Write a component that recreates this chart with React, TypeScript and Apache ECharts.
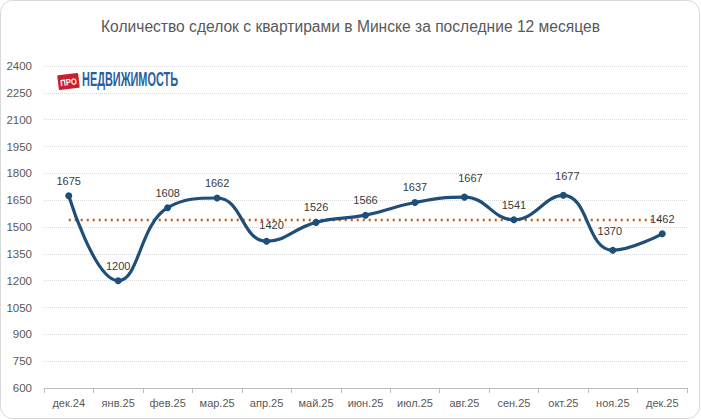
import React, { useEffect, useRef } from "react";
import * as echarts from "echarts";

const TITLE = "Количество сделок с квартирами в Минске за последние 12 месяцев";
const categories = ["дек.24", "янв.25", "фев.25", "мар.25", "апр.25", "май.25", "июн.25", "июл.25", "авг.25", "сен.25", "окт.25", "ноя.25", "дек.25"];
const deals = [1675, 1200, 1608, 1662, 1420, 1526, 1566, 1637, 1667, 1541, 1677, 1370, 1462];
const average = [1539, 1539, 1539, 1539, 1539, 1539, 1539, 1539, 1539, 1539, 1539, 1539, 1539];
const labelOffsets: [number, number][] = [
  [0, 0], [0, 0], [0, 0], [0, 0], [5, -1], [0, 0], [0, 0], [0, 0], [6, -4], [0, 0], [4, -4], [-3, -4], [0, 0],
];

export default function App() {
  const ref = useRef<HTMLDivElement>(null);
  useEffect(() => {
    document.body.style.margin = "0";
    const chart = echarts.init(ref.current!, null, { renderer: "svg" });
    const font = "'Liberation Sans', Arial, sans-serif";
    const labelColor = "#3a3a3a";
    chart.setOption({
      animation: false,
      backgroundColor: "#ffffff",
      title: {
        text: TITLE,
        left: "center",
        top: 13,
        textStyle: { fontFamily: font, fontSize: 15.6, fontWeight: "normal", color: "#595959" },
      },
      grid: { left: 44, right: 14, top: 66, bottom: 32 },
      xAxis: {
        type: "category",
        data: categories,
        axisLine: { lineStyle: { color: "#bfbfbf" } },
        axisTick: { show: true, length: 5, lineStyle: { color: "#bfbfbf" } },
        axisLabel: { fontFamily: font, fontSize: 11, color: "#595959", margin: 9 },
      },
      yAxis: {
        type: "value",
        min: 600,
        max: 2400,
        interval: 150,
        axisLine: { show: false },
        axisTick: { show: false },
        axisLabel: {
          fontFamily: font,
          fontSize: 11.5,
          color: "#595959",
          margin: 12,
          formatter: (v: number) => String(v),
        },
        splitLine: { lineStyle: { color: "#d9d9d9", type: "dotted" } },
      },
      series: [
        {
          type: "line",
          data: average,
          symbol: "none",
          lineStyle: { color: "#c55a11", width: 2.5, type: [2, 4] as any },
          z: 2,
          silent: true,
          label: { show: false },
        },
        {
          type: "line",
          data: deals.map((v, i) => ({
            value: v,
            label: { offset: labelOffsets[i] },
          })),
          smooth: 0.45,
          symbol: "circle",
          symbolSize: 7,
          itemStyle: { color: "#1f4e79" },
          lineStyle: { color: "#1f4e79", width: 3.2 },
          label: {
            show: true,
            position: "top",
            distance: 6,
            fontFamily: font,
            fontSize: 11,
            color: labelColor,
          },
          z: 3,
        },
      ],
      graphic: [
        {
          type: "rect",
          shape: { x: 0.5, y: 0.5, width: 699, height: 418, r: 12 },
          style: { fill: "none", stroke: "#d9d9d9", lineWidth: 1 },
          silent: true,
        },
        {
          type: "group",
          x: 68.5,
          y: 81.5,
          rotation: 0.12,
          children: [
            {
              type: "rect",
              shape: { x: -10.5, y: -7.5, width: 21, height: 15, r: 1 },
              style: { fill: "#c8202f" },
            },
            {
              type: "text",
              x: 0,
              y: 0.5,
              scaleX: 0.85,
              style: {
                text: "ПРО",
                fontFamily: "'Liberation Sans', sans-serif",
                fontWeight: "bold",
                fontSize: 9,
                fill: "#ffffff",
                align: "center",
                verticalAlign: "middle",
              },
            },
          ],
        },
        {
          type: "text",
          x: 82,
          y: 79,
          scaleX: 0.52,
          style: {
            text: "НЕДВИЖИМОСТЬ",
            fontFamily: "'Liberation Sans', sans-serif",
            fontWeight: "bold",
            fontSize: 21,
            fill: "#2b5fa3",
            verticalAlign: "middle",
          },
        },
      ],
    });
    return () => chart.dispose();
  }, []);
  return <div ref={ref} style={{ width: 701, height: 420 }} />;
}
